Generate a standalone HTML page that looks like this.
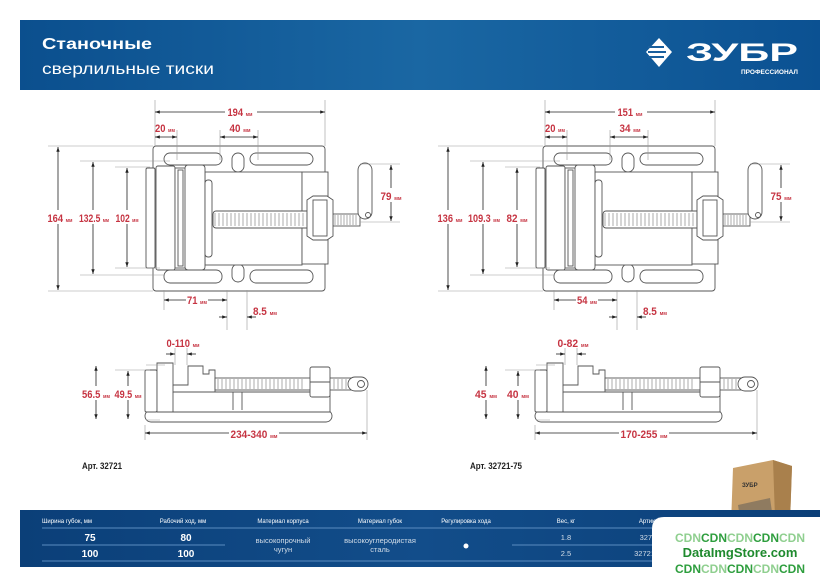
<!DOCTYPE html>
<html><head><meta charset="utf-8"><style>
html,body{margin:0;padding:0;background:#fff;width:840px;height:587px;overflow:hidden}
svg{display:block}
.d{font-family:"Liberation Sans Narrow","Liberation Sans",sans-serif;fill:#c63442;font-size:11px;font-weight:bold}
.u{font-size:5.5px}
.t{font-family:"Liberation Sans Narrow","Liberation Sans",sans-serif;fill:#fff}
</style></head><body>
<svg width="840" height="587" viewBox="0 0 840 587" xmlns="http://www.w3.org/2000/svg">
<defs>
<linearGradient id="hg" x1="0" x2="1" y1="0" y2="0"><stop offset="0" stop-color="#0b4f8e"/><stop offset=".5" stop-color="#1a67a3"/><stop offset="1" stop-color="#0b5192"/></linearGradient>
<linearGradient id="tg" x1="0" x2="1"><stop offset="0" stop-color="#0b3f78"/><stop offset=".5" stop-color="#124d8a"/><stop offset="1" stop-color="#0b3f78"/></linearGradient>
<marker id="a" viewBox="0 0 10 10" refX="10" refY="5" markerWidth="6" markerHeight="6" orient="auto-start-reverse"><path d="M0,1.5L10,5L0,8.5z" fill="#222"/></marker>
<g id="vise" fill="#fff" stroke="#555" stroke-width="0.9">
 <rect x="153" y="146" width="172" height="145" rx="3"/>
 <rect x="164" y="153" width="58" height="12" rx="6"/>
 <rect x="250" y="153" width="63" height="12" rx="6"/>
 <rect x="232" y="153" width="12" height="19" rx="6"/>
 <rect x="164" y="270" width="58" height="13" rx="6"/>
 <rect x="250" y="270" width="63" height="13" rx="6"/>
 <rect x="232" y="264" width="12" height="18" rx="6"/>
 <rect x="146" y="168" width="9" height="100" rx="1.5"/>
 <rect x="205" y="172" width="97" height="93"/>
 <rect x="302" y="172" width="26" height="92"/>
 <rect x="156" y="166" width="19" height="104" rx="2"/>
 <rect x="175" y="168" width="11" height="100"/>
 <rect x="178" y="170" width="5" height="96"/>
 <rect x="185" y="165" width="20" height="105" rx="3"/>
 <rect x="205" y="180" width="7" height="77" rx="3"/>
 <rect x="213" y="211" width="100" height="17" rx="3"/>
 <path d="M215,213 V226 M219,213 V226 M223,213 V226 M227,213 V226 M231,213 V226 M235,213 V226 M239,213 V226 M243,213 V226 M247,213 V226 M251,213 V226 M255,213 V226 M259,213 V226 M263,213 V226 M267,213 V226 M271,213 V226 M275,213 V226 M279,213 V226 M283,213 V226 M287,213 V226 M291,213 V226 M295,213 V226 M299,213 V226 M303,213 V226 M307,213 V226" stroke="#888" stroke-width="0.7"/>
 <rect x="333" y="214" width="27" height="12"/>
 <path d="M335,215 V225 M338,215 V225 M341,215 V225 M344,215 V225 M347,215 V225 M350,215 V225 M353,215 V225 M356,215 V225" stroke="#888" stroke-width="0.7"/>
 <path d="M307,200 L313,196 H327 L333,200 V236 L327,240 H313 L307,236 Z"/>
 <rect x="313" y="200" width="14" height="36"/>
 <rect x="358" y="163" width="14" height="56" rx="7"/>
 <circle cx="368" cy="215" r="2.5"/>
 <rect x="145" y="410" width="187" height="12" rx="6"/>
 <rect x="145" y="370" width="12" height="42" rx="1.5"/>
 <path d="M157,412 V363 H173 V385 H188 V366 H203 V374 H209 V370 H215 V392 H228 V392 H330 V412 Z"/>
 <path d="M173,385 V392 H228" fill="none"/>
 <path d="M173,392 V412 M233,392 V410 M242,392 V410" fill="none"/>
 <rect x="215" y="378" width="145" height="12"/>
 <path d="M218,379 V389 M222,379 V389 M226,379 V389 M230,379 V389 M234,379 V389 M238,379 V389 M242,379 V389 M246,379 V389 M250,379 V389 M254,379 V389 M258,379 V389 M262,379 V389 M266,379 V389 M270,379 V389 M274,379 V389 M278,379 V389 M282,379 V389 M286,379 V389 M290,379 V389 M294,379 V389 M298,379 V389 M302,379 V389 M314,379 V389 M334,379 V389 M338,379 V389 M342,379 V389 M346,379 V389 M350,379 V389" stroke="#888" stroke-width="0.7"/>
 <rect x="310" y="367" width="20" height="30" rx="2"/>
 <path d="M310,382 H330" fill="none"/>
 <rect x="348" y="377" width="20" height="14" rx="7"/>
 <circle cx="361" cy="384" r="3.5"/>
</g>
<g id="dims" stroke="#999" stroke-width="0.6" fill="none">
 <path d="M155,100 V146 M325,100 V146 M177,130 V160 M220,130 V160 M258,130 V160 M48,146 H153 M48,291 H153 M80,161 H170 M80,275 H165 M115,167 H150 M115,268 H160 M360,164 H400 M360,222 H400 M164,290 V310 M227,290 V330 M247,290 V330 M146,365 H165 M146,420 H160 M115,370 H150 M175,348 V365 M187,348 V365 M145,425 V440 M367,390 V440"/>
 <g stroke="#222" stroke-width="0.8">
  <path d="M155,112 H325" marker-start="url(#a)" marker-end="url(#a)"/>
  <path d="M155,137 H177" marker-start="url(#a)" marker-end="url(#a)"/>
  <path d="M220,137 H258" marker-start="url(#a)" marker-end="url(#a)"/>
  <path d="M58,147 V290" marker-start="url(#a)" marker-end="url(#a)"/>
  <path d="M93,162 V274" marker-start="url(#a)" marker-end="url(#a)"/>
  <path d="M127,168 V267" marker-start="url(#a)" marker-end="url(#a)"/>
  <path d="M391,165 V221" marker-start="url(#a)" marker-end="url(#a)"/>
  <path d="M164,300 H227" marker-start="url(#a)" marker-end="url(#a)"/>
  <path d="M219,317 H227" marker-end="url(#a)"/>
  <path d="M256,317 H247" marker-end="url(#a)"/>
  <path d="M166,354 H175" marker-end="url(#a)"/>
  <path d="M196,354 H187" marker-end="url(#a)"/>
  <path d="M96,366 V419" marker-start="url(#a)" marker-end="url(#a)"/>
  <path d="M128,371 V419" marker-start="url(#a)" marker-end="url(#a)"/>
  <path d="M145,433 H367" marker-start="url(#a)" marker-end="url(#a)"/>
 </g>
</g>
</defs>
<rect x="20" y="20" width="800" height="70" fill="url(#hg)"/>
<text x="42" y="49" class="t" style="font-family:'Liberation Sans',sans-serif;font-size:16px;font-weight:bold" textLength="110" lengthAdjust="spacingAndGlyphs">Станочные</text>
<text x="42" y="74" class="t" style="font-family:'Liberation Sans',sans-serif;font-size:16px" textLength="172" lengthAdjust="spacingAndGlyphs">сверлильные тиски</text>
<path d="M659,38 L672,52 L659,67 L646,52 Z" fill="#fff"/>
<path d="M648,47 H664 M648,52 H666 M648,57 H664" stroke="#1a5f9d" stroke-width="2"/>
<text x="686" y="61" class="t" style="font-family:'Liberation Sans',sans-serif;font-size:25px;font-weight:bold" textLength="112" lengthAdjust="spacingAndGlyphs">ЗУБР</text>
<text x="798" y="74" class="t" text-anchor="end" style="font-family:'Liberation Sans',sans-serif;font-size:6.5px;font-weight:bold">ПРОФЕССИОНАЛ</text>
<g><use href="#vise"/><use href="#dims"/></g>
<g transform="translate(390,0)"><use href="#vise"/><use href="#dims"/></g>
<g class="d" text-anchor="middle" lengthAdjust="spacingAndGlyphs">
 <rect x="225" y="104" width="32" height="14" fill="#fff"/>
 <text x="240" y="116" textLength="25" lengthAdjust="spacingAndGlyphs">194 <tspan class="u">мм</tspan></text>
 <text x="165" y="132" textLength="20" lengthAdjust="spacingAndGlyphs">20 <tspan class="u">мм</tspan></text>
 <text x="240" y="132" textLength="21" lengthAdjust="spacingAndGlyphs">40 <tspan class="u">мм</tspan></text>
 <rect x="47" y="210" width="27" height="14" fill="#fff"/>
 <text x="60" y="222" textLength="25" lengthAdjust="spacingAndGlyphs">164 <tspan class="u">мм</tspan></text>
 <rect x="78" y="210" width="32" height="14" fill="#fff"/>
 <text x="94" y="222" textLength="30" lengthAdjust="spacingAndGlyphs">132.5 <tspan class="u">мм</tspan></text>
 <rect x="115" y="210" width="25" height="14" fill="#fff"/>
 <text x="127" y="222" textLength="23" lengthAdjust="spacingAndGlyphs">102 <tspan class="u">мм</tspan></text>
 <rect x="380" y="188" width="23" height="14" fill="#fff"/>
 <text x="391" y="200" textLength="21" lengthAdjust="spacingAndGlyphs">79 <tspan class="u">мм</tspan></text>
 <rect x="186" y="294" width="22" height="12" fill="#fff"/>
 <text x="197" y="304" textLength="20" lengthAdjust="spacingAndGlyphs">71 <tspan class="u">мм</tspan></text>
 <text x="265" y="315" textLength="24" lengthAdjust="spacingAndGlyphs">8.5 <tspan class="u">мм</tspan></text>
 <text x="183" y="347" textLength="33" lengthAdjust="spacingAndGlyphs">0-110 <tspan class="u">мм</tspan></text>
 <rect x="82" y="386" width="30" height="14" fill="#fff"/>
 <text x="96" y="398" textLength="28" lengthAdjust="spacingAndGlyphs">56.5 <tspan class="u">мм</tspan></text>
 <rect x="114" y="386" width="29" height="14" fill="#fff"/>
 <text x="128" y="398" textLength="27" lengthAdjust="spacingAndGlyphs">49.5 <tspan class="u">мм</tspan></text>
 <rect x="229" y="427" width="50" height="13" fill="#fff"/>
 <text x="254" y="438" textLength="47" lengthAdjust="spacingAndGlyphs">234-340 <tspan class="u">мм</tspan></text>
</g>
<g class="d" text-anchor="middle" transform="translate(390,0)">
 <rect x="225" y="104" width="32" height="14" fill="#fff"/>
 <text x="240" y="116" textLength="25" lengthAdjust="spacingAndGlyphs">151 <tspan class="u">мм</tspan></text>
 <text x="165" y="132" textLength="20" lengthAdjust="spacingAndGlyphs">20 <tspan class="u">мм</tspan></text>
 <text x="240" y="132" textLength="21" lengthAdjust="spacingAndGlyphs">34 <tspan class="u">мм</tspan></text>
 <rect x="47" y="210" width="27" height="14" fill="#fff"/>
 <text x="60" y="222" textLength="25" lengthAdjust="spacingAndGlyphs">136 <tspan class="u">мм</tspan></text>
 <rect x="78" y="210" width="32" height="14" fill="#fff"/>
 <text x="94" y="222" textLength="32" lengthAdjust="spacingAndGlyphs">109.3 <tspan class="u">мм</tspan></text>
 <rect x="116" y="210" width="23" height="14" fill="#fff"/>
 <text x="127" y="222" textLength="21" lengthAdjust="spacingAndGlyphs">82 <tspan class="u">мм</tspan></text>
 <rect x="380" y="188" width="23" height="14" fill="#fff"/>
 <text x="391" y="200" textLength="21" lengthAdjust="spacingAndGlyphs">75 <tspan class="u">мм</tspan></text>
 <rect x="186" y="294" width="22" height="12" fill="#fff"/>
 <text x="197" y="304" textLength="20" lengthAdjust="spacingAndGlyphs">54 <tspan class="u">мм</tspan></text>
 <text x="265" y="315" textLength="24" lengthAdjust="spacingAndGlyphs">8.5 <tspan class="u">мм</tspan></text>
 <text x="183" y="347" textLength="31" lengthAdjust="spacingAndGlyphs">0-82 <tspan class="u">мм</tspan></text>
 <rect x="84" y="386" width="24" height="14" fill="#fff"/>
 <text x="96" y="398" textLength="22" lengthAdjust="spacingAndGlyphs">45 <tspan class="u">мм</tspan></text>
 <rect x="116" y="386" width="24" height="14" fill="#fff"/>
 <text x="128" y="398" textLength="22" lengthAdjust="spacingAndGlyphs">40 <tspan class="u">мм</tspan></text>
 <rect x="229" y="427" width="50" height="13" fill="#fff"/>
 <text x="254" y="438" textLength="47" lengthAdjust="spacingAndGlyphs">170-255 <tspan class="u">мм</tspan></text>
</g>
<text x="82" y="469" style="font-family:'Liberation Sans',sans-serif;font-size:9px;font-weight:bold" fill="#222" textLength="40" lengthAdjust="spacingAndGlyphs">Арт. 32721</text>
<text x="470" y="469" style="font-family:'Liberation Sans',sans-serif;font-size:9px;font-weight:bold" fill="#222" textLength="52" lengthAdjust="spacingAndGlyphs">Арт. 32721-75</text>
<path d="M733,468 L773,460 L792,466 L790,522 L731,525 Z" fill="#c9a06a"/>
<path d="M773,460 L792,466 L790,522 L775,518 Z" fill="#a9804c"/>
<text x="742" y="487" font-family="Liberation Sans,sans-serif" font-size="6" font-weight="bold" fill="#333">ЗУБР</text>
<path d="M738,505 L770,498 L772,512 L740,518 Z" fill="#555" opacity=".5"/>
<rect x="20" y="510" width="800" height="57" fill="url(#tg)"/>
<g class="t" text-anchor="middle" font-size="6">
 <text x="67" y="523">Ширина губок, мм</text>
 <text x="183" y="523">Рабочий ход, мм</text>
 <text x="283" y="523">Материал корпуса</text>
 <text x="380" y="523">Материал губок</text>
 <text x="466" y="523">Регулировка хода</text>
 <text x="566" y="523">Вес, кг</text>
 <text x="650" y="523">Артикул</text>
</g>
<path d="M42,528 H810 M42,545 H225 M512,545 H700 M42,561 H810" stroke="#5a8cc0" stroke-width="1"/>
<g class="t" text-anchor="middle" font-weight="bold" font-size="10" style="font-family:'Liberation Sans',sans-serif">
 <text x="90" y="541">75</text><text x="186" y="541">80</text>
 <text x="90" y="557">100</text><text x="186" y="557">100</text>
</g>
<g class="t" text-anchor="middle" font-size="7.5" fill-opacity=".8">
 <text x="283" y="543">высокопрочный</text><text x="283" y="552">чугун</text>
 <text x="380" y="543">высокоуглеродистая</text><text x="380" y="552">сталь</text>
 <text x="566" y="540">1.8</text><text x="566" y="556">2.5</text>
 <text x="650" y="540">32721</text><text x="650" y="556">32721-75</text>
</g>
<circle cx="466" cy="546" r="2.5" fill="#fff"/>
<path d="M664,517 H834 V587 H652 V529 Q652,517 664,517 Z" fill="#fff"/>
<g text-anchor="middle" font-family="Liberation Sans,sans-serif" font-weight="bold">
 <text x="740" y="542" font-size="12" fill="#8fcf8f">CDN<tspan fill="#2e9e3e">CDN</tspan>CDN<tspan fill="#2e9e3e">CDN</tspan>CDN</text>
 <text x="740" y="557" font-size="13" fill="#1f8a2e">DataImgStore.com</text>
 <text x="740" y="573" font-size="12" fill="#2e9e3e">CDN<tspan fill="#8fcf8f">CDN</tspan>CDN<tspan fill="#8fcf8f">CDN</tspan>CDN</text>
</g>
</svg>
</body></html>
